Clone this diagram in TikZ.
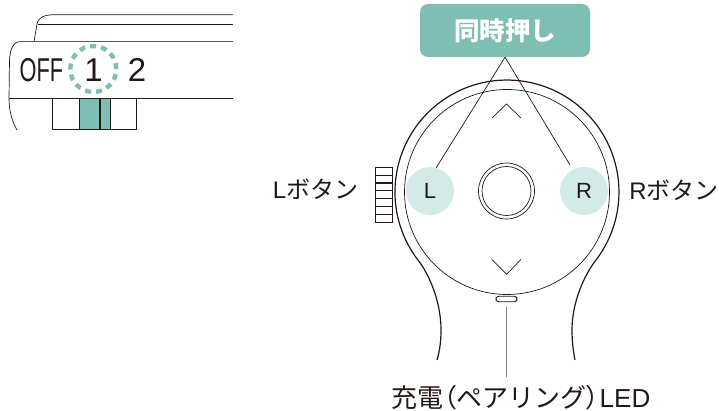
\documentclass[tikz,border=0pt]{standalone}
\usepackage{fontspec}
\setmainfont{Noto Sans CJK JP}
\newfontfamily\latinfont{Liberation Sans}
\newfontfamily\palatfont[RawFeature=+palt]{Noto Sans CJK JP}
\usepackage{tikz}
\definecolor{inkdark}{HTML}{231815}
\definecolor{tealbox}{HTML}{7FBFB3}
\definecolor{tealpale}{HTML}{D3EBE8}
\tikzset{
    bodyline/.style={inkdark, line width=1.2pt},
    thinline/.style={inkdark, line width=0.7pt},
    dialline/.style={inkdark, line width=1.1pt},
    btnspot/.style={shape=circle, fill=tealpale, minimum size=48pt, inner sep=0pt, text=inkdark, font=\latinfont\fontsize{22}{26}\selectfont},
    captext/.style={text=inkdark, inner sep=0pt, font=\fontsize{24}{28}\selectfont},
    switchtext/.style={text=inkdark, inner sep=0pt, font=\latinfont\fontsize{33}{36}\selectfont}
}
\begin{document}
\begin{tikzpicture}[x=1pt, y=1pt]
            \useasboundingbox (0, 0) rectangle (719, 410);

            \draw[thinline] (233, 395.3) -- (55, 395.3) .. controls (43, 395.3) and (38, 392) .. (37, 386) -- (34, 368.3);
            \draw[thinline] (38, 386) -- (233, 386);
            \draw[bodyline, gray!60!inkdark] (233, 368.3) -- (20, 368.3);
            \draw[thinline] (20, 368.3) .. controls (13, 368.3) and (10, 360) .. (9.5, 350) -- (9, 312) .. controls (9, 297) and (13, 287) .. (17, 280);
            \draw[thinline] (9, 311.7) -- (233, 311.7);
            \fill[tealbox] (79.3, 281) rectangle (110.7, 311.7);
            \draw[thinline] (52.3, 281) rectangle (136.3, 311.7);
            \draw[thinline] (79.3, 281) -- (79.3, 311.7);
            \draw[bodyline] (100, 281) -- (100, 311.7);
            \draw[thinline] (110.7, 281) -- (110.7, 311.7);
            \draw[tealbox, line width=4.4pt, dash pattern=on 6pt off 5.1pt] (93.3, 341) circle (23);

            \node[switchtext, xscale=0.66] (offtext) at (41.5, 340) {OFF};
            \node[switchtext] (onetext) at (93.5, 340) {1};
            \node[switchtext] (twotext) at (137, 340) {2};

            \draw[bodyline] (437, 50) .. controls (440, 60) and (441, 70) .. (441, 80) .. controls (441, 110) and (428, 137) .. (418.7, 149) arc (218:-38:112) .. controls (586, 137) and (572, 110) .. (572, 80) .. controls (572, 70) and (573, 60) .. (575, 50);
            \draw[thinline] (507, 218) circle (102.5);
            \draw[thinline] (506.5, 219) circle (28);
            \draw[thinline] (506.5, 219) circle (24.5);
            \draw[thinline] (492, 292) -- (506.5, 306) -- (521, 292);
            \draw[thinline] (491.7, 150.7) -- (506.7, 135.7) -- (521, 150.7);

            \draw[bodyline, fill=white] (375.7, 187.7) rectangle (392.3, 242.7);
            \draw[dialline] (375.7, 195.6) -- (392.3, 195.6);
            \draw[dialline] (375.7, 203.4) -- (392.3, 203.4);
            \draw[dialline] (375.7, 211.3) -- (392.3, 211.3);
            \draw[dialline] (375.7, 219.1) -- (392.3, 219.1);
            \draw[dialline] (375.7, 227) -- (392.3, 227);
            \draw[dialline] (375.7, 234.8) -- (392.3, 234.8);

            \node[btnspot] (lbtn) at (430, 219) {L};
            \node[btnspot] (rbtn) at (584, 219) {R};
            \node[shape=rectangle, rounded corners=8pt, fill=tealbox, minimum width=170pt, minimum height=53pt, text=white, font=\fontsize{25.5}{30}\selectfont\bfseries] (pushbox) at (505, 379.5) {同時押し};
            \coordinate (rend) at (570, 245);
            \draw[thinline] (pushbox.south) -- (lbtn.75);
            \draw[thinline] (pushbox.south) -- (rend);

            \node[captext] (ltext) at (315.5, 221) {{\latinfont L}ボタン};
            \node[captext] (rtext) at (674, 220) {{\latinfont R}ボタン};

            \node[shape=rectangle, rounded corners=2.8pt, draw=inkdark, line width=0.9pt, minimum width=21pt, minimum height=5.5pt, inner sep=0pt] (led) at (506.5, 111) {};
            \node[captext, font=\fontsize{26}{30}\selectfont] (ledtext) at (521, 12.5) {充電{\palatfont（}ペアリング{\palatfont）}{\latinfont LED}};
            \draw[gray, line width=0.8pt, shorten <=5pt] (led.south) -- (led.south |- 0, 33);
\end{tikzpicture}
\end{document}
